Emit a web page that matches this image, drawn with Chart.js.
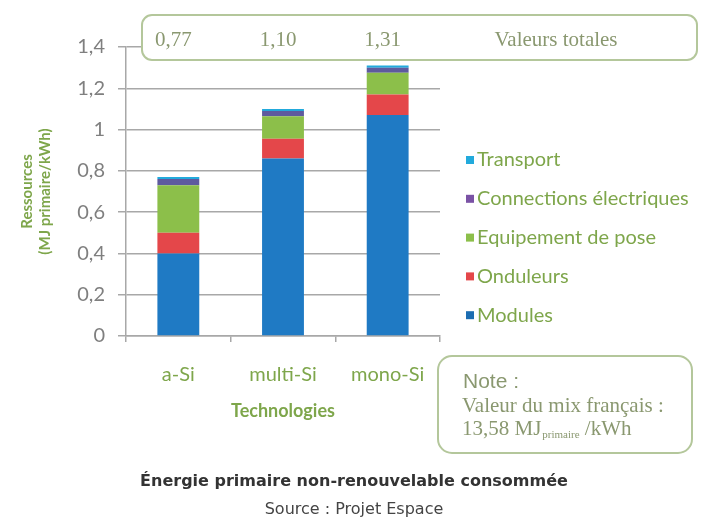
<!DOCTYPE html>
<html>
<head>
<meta charset="utf-8">
<script src="https://cdn.jsdelivr.net/npm/chart.js@4"></script>
<style>
  body { margin: 0; background: #fff; }
  canvas { display: block; }
</style>
</head>
<body>
<canvas id="energyChart" width="706" height="519"></canvas>
<script>
const technologies = ["a-Si", "multi-Si", "mono-Si"];
const modules = [0.40, 0.86, 1.07];
const onduleurs = [0.10, 0.095, 0.10];
const equipement = [0.23, 0.11, 0.105];
const connections = [0.03, 0.025, 0.025];
const transport = [0.01, 0.01, 0.01];
const yTicks = [0, 0.2, 0.4, 0.6, 0.8, 1, 1.2, 1.4];

const green = "#7ea64b";
const boxText = "#8a9870";
const boxBorder = "#b4c79b";

const frNum = (v, d) => (d == null ? String(v) : v.toFixed(d)).replace(".", ",");

// totals per technology, summed from the stacked parts
const totals = technologies.map((_, i) =>
  modules[i] + onduleurs[i] + equipement[i] + connections[i] + transport[i]);

function roundBox(ctx, x, y, w, h, r) {
  ctx.save();
  ctx.beginPath();
  ctx.roundRect(x, y, w, h, r);
  ctx.fillStyle = "#fff";
  ctx.fill();
  ctx.lineWidth = 2;
  ctx.strokeStyle = boxBorder;
  ctx.stroke();
  ctx.restore();
}

const extras = {
  id: "extras",
  afterDraw(chart) {
    const ctx = chart.ctx;
    const x = chart.scales.x;

    // totals box on top
    roundBox(ctx, 142, 15, 555, 45, 10);
    ctx.save();
    ctx.fillStyle = boxText;
    ctx.font = "21px 'Liberation Serif'";
    ctx.textAlign = "center";
    ctx.textBaseline = "middle";
    totals.forEach((t, i) => {
      ctx.fillText(frNum(t, 2), x.getPixelForValue(i) - 5, 40);
    });
    ctx.fillText("Valeurs totales", 556, 40);
    ctx.restore();

    // legend, last series on top
    ctx.save();
    ctx.font = "20px Lato";
    ctx.textBaseline = "middle";
    const ds = chart.data.datasets.slice().reverse();
    ds.forEach((d, i) => {
      const cy = 160 + i * 38.8;
      ctx.fillStyle = d.legendColor || d.backgroundColor;
      ctx.fillRect(466, cy - 4, 8, 8);
      ctx.fillStyle = green;
      ctx.fillText(d.label, 477, cy);
    });
    ctx.restore();

    // note box
    roundBox(ctx, 438, 356, 254, 97, 14);
    ctx.save();
    ctx.fillStyle = boxText;
    ctx.textBaseline = "middle";
    ctx.font = "21px 'Liberation Sans Narrow', 'Liberation Sans'";
    ctx.fillText("Note :", 463, 382);
    ctx.font = "21px 'Liberation Serif'";
    ctx.fillText("Valeur du mix français :", 462, 406);
    let tx = 462;
    ctx.fillText("13,58 MJ", tx, 429);
    tx += ctx.measureText("13,58 MJ").width;
    ctx.font = "11px 'Liberation Serif'";
    ctx.fillText("primaire", tx + 1, 435);
    tx += ctx.measureText("primaire").width + 1;
    ctx.font = "21px 'Liberation Serif'";
    ctx.fillText(" /kWh", tx, 429);
    ctx.restore();

    // caption and source
    ctx.save();
    ctx.textAlign = "center";
    ctx.textBaseline = "middle";
    ctx.fillStyle = "#333";
    ctx.font = "bold 16px 'DejaVu Sans'";
    ctx.fillText("Énergie primaire non-renouvelable consommée", 354, 482);
    ctx.fillStyle = "#444";
    ctx.font = "16px 'DejaVu Sans'";
    ctx.fillText("Source : Projet Espace", 354, 510);
    ctx.restore();
  }
};

new Chart(document.getElementById("energyChart"), {
  type: "bar",
  data: {
    labels: technologies,
    datasets: [
      { label: "Modules", data: modules, backgroundColor: "#1f7ac4", legendColor: "#1c6db2" },
      { label: "Onduleurs", data: onduleurs, backgroundColor: "#e4474a" },
      { label: "Equipement de pose", data: equipement, backgroundColor: "#8cbf4a" },
      { label: "Connections électriques", data: connections, backgroundColor: "#5e5a9e", legendColor: "#7a52a5" },
      { label: "Transport", data: transport, backgroundColor: "#22aadc" },
    ],
  },
  options: {
    responsive: false,
    animation: false,
    layout: { padding: { left: 0, right: 266, top: 47, bottom: 93 } },
    datasets: { bar: { categoryPercentage: 1, barPercentage: 0.4 } },
    plugins: {
      legend: { display: false },
      tooltip: { enabled: false },
    },
    scales: {
      x: {
        stacked: true,
        afterFit: (s) => { s.height = 90; },
        grid: { offset: true, drawOnChartArea: false, tickLength: 6, color: "#a8a8a8", lineWidth: 1.5 },
        border: { color: "#a8a8a8", width: 1.5 },
        ticks: { color: green, padding: 21, font: { family: "Lato", size: 20 } },
        title: {
          display: true, text: "Technologies", color: green,
          padding: { top: 0, bottom: 4 },
          font: { family: "Lato", size: 18, weight: "bold" },
        },
      },
      y: {
        stacked: true,
        min: 0,
        max: 1.4,
        afterFit: (s) => { s.width = 126; },
        afterBuildTicks: (s) => { s.ticks = yTicks.map((v) => ({ value: v })); },
        grid: { tickLength: 8, color: "#a8a8a8", lineWidth: 1.5 },
        border: { color: "#a8a8a8", width: 1.5 },
        ticks: {
          color: "#7f7f7f", padding: 13,
          font: { family: "Lato", size: 20 },
          callback: (v) => frNum(Number(v.toFixed(1))),
        },
        title: {
          display: true, text: ["Ressources", "(MJ primaire/kWh)"], color: green,
          padding: { top: 18, bottom: 0 },
          font: { family: "Lato", size: 15, weight: "bold", lineHeight: 1.2 },
        },
      },
    },
  },
  plugins: [extras],
});
</script>
</body>
</html>
